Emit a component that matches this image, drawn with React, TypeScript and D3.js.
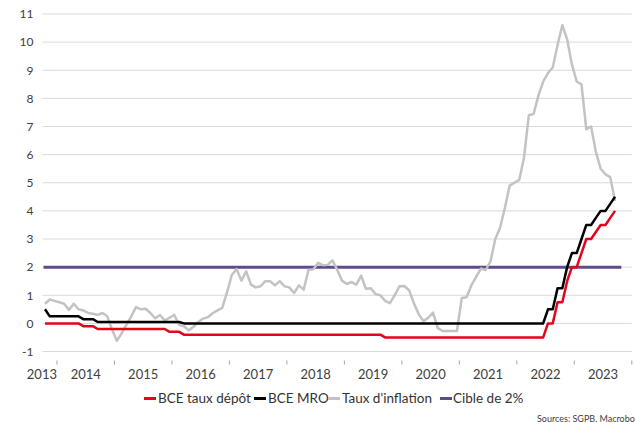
import React from "react";
import * as d3 from "d3";

// Monthly categories Oct 2013 .. Dec 2023 (axis), data Oct 2013 .. Sep 2023
const startMonth = new Date(2013, 9, 1);
const endMonth = new Date(2024, 0, 1);
const yearLabels = ["2013", "2014", "2015", "2016", "2017", "2018", "2019", "2020", "2021", "2022", "2023"];
const yTicks = [-1, 0, 1, 2, 3, 4, 5, 6, 7, 8, 9, 10, 11];

const depositRate = [
  0, 0, 0,
  0, 0, 0, 0, 0, -0.1, -0.1, -0.1, -0.2, -0.2, -0.2, -0.2,
  -0.2, -0.2, -0.2, -0.2, -0.2, -0.2, -0.2, -0.2, -0.2, -0.2, -0.2, -0.3,
  -0.3, -0.3, -0.4, -0.4, -0.4, -0.4, -0.4, -0.4, -0.4, -0.4, -0.4, -0.4,
  -0.4, -0.4, -0.4, -0.4, -0.4, -0.4, -0.4, -0.4, -0.4, -0.4, -0.4, -0.4,
  -0.4, -0.4, -0.4, -0.4, -0.4, -0.4, -0.4, -0.4, -0.4, -0.4, -0.4, -0.4,
  -0.4, -0.4, -0.4, -0.4, -0.4, -0.4, -0.4, -0.4, -0.5, -0.5, -0.5, -0.5,
  -0.5, -0.5, -0.5, -0.5, -0.5, -0.5, -0.5, -0.5, -0.5, -0.5, -0.5, -0.5,
  -0.5, -0.5, -0.5, -0.5, -0.5, -0.5, -0.5, -0.5, -0.5, -0.5, -0.5, -0.5,
  -0.5, -0.5, -0.5, -0.5, -0.5, -0.5, 0, 0, 0.75, 0.75, 1.5, 2.0,
  2.0, 2.5, 3.0, 3.0, 3.25, 3.5, 3.5, 3.75, 4.0,
];

const mroRate = [
  0.5, 0.25, 0.25,
  0.25, 0.25, 0.25, 0.25, 0.25, 0.15, 0.15, 0.15, 0.05, 0.05, 0.05, 0.05,
  0.05, 0.05, 0.05, 0.05, 0.05, 0.05, 0.05, 0.05, 0.05, 0.05, 0.05, 0.05,
  0.05, 0.05, 0, 0, 0, 0, 0, 0, 0, 0, 0, 0,
  0, 0, 0, 0, 0, 0, 0, 0, 0, 0, 0, 0,
  0, 0, 0, 0, 0, 0, 0, 0, 0, 0, 0, 0,
  0, 0, 0, 0, 0, 0, 0, 0, 0, 0, 0, 0,
  0, 0, 0, 0, 0, 0, 0, 0, 0, 0, 0, 0,
  0, 0, 0, 0, 0, 0, 0, 0, 0, 0, 0, 0,
  0, 0, 0, 0, 0, 0, 0.5, 0.5, 1.25, 1.25, 2.0, 2.5,
  2.5, 3.0, 3.5, 3.5, 3.75, 4.0, 4.0, 4.25, 4.5,
];

const inflation = [
  0.7, 0.85, 0.8,
  0.75, 0.7, 0.48, 0.7, 0.5, 0.46, 0.37, 0.34, 0.3, 0.37, 0.25, -0.22,
  -0.62, -0.35, -0.05, 0.25, 0.58, 0.5, 0.52, 0.37, 0.18, 0.3, 0.1, 0.2,
  0.3, -0.05, -0.1, -0.25, -0.12, 0.05, 0.17, 0.22, 0.36, 0.46, 0.55, 1.1,
  1.72, 1.93, 1.52, 1.85, 1.38, 1.28, 1.32, 1.5, 1.5, 1.35, 1.5, 1.32,
  1.28, 1.08, 1.35, 1.2, 1.9, 1.92, 2.15, 2.07, 2.08, 2.24, 1.91, 1.52,
  1.4, 1.47, 1.38, 1.7, 1.23, 1.25, 1.04, 1.0, 0.8, 0.72, 1.0, 1.32,
  1.33, 1.18, 0.72, 0.33, 0.08, 0.2, 0.38, -0.17, -0.27, -0.27, -0.27, -0.27,
  0.9, 0.93, 1.35, 1.65, 1.95, 1.9, 2.2, 3.0, 3.4, 4.1, 4.9, 5.0,
  5.1, 5.9, 7.4, 7.45, 8.1, 8.6, 8.9, 9.1, 9.9, 10.6, 10.1, 9.2,
  8.6, 8.5, 6.9, 7.0, 6.1, 5.5, 5.3, 5.2, 4.35,
];

const target = [
  2, 2, 2,
  2, 2, 2, 2, 2, 2, 2, 2, 2, 2, 2, 2,
  2, 2, 2, 2, 2, 2, 2, 2, 2, 2, 2, 2,
  2, 2, 2, 2, 2, 2, 2, 2, 2, 2, 2, 2,
  2, 2, 2, 2, 2, 2, 2, 2, 2, 2, 2, 2,
  2, 2, 2, 2, 2, 2, 2, 2, 2, 2, 2, 2,
  2, 2, 2, 2, 2, 2, 2, 2, 2, 2, 2, 2,
  2, 2, 2, 2, 2, 2, 2, 2, 2, 2, 2, 2,
  2, 2, 2, 2, 2, 2, 2, 2, 2, 2, 2, 2,
  2, 2, 2, 2, 2, 2, 2, 2, 2, 2, 2, 2,
  2, 2, 2, 2, 2, 2, 2, 2, 2, 2,
];

const seriesNames = ["BCE taux dépôt", "BCE MRO", "Taux d'inflation", "Cible de 2%"];
const seriesColors = ["#E3051B", "#000000", "#C3C3C3", "#5E4B8B"];

const W = 635;
const H = 422;
const FONT = "Lato, 'Liberation Sans', sans-serif";

export default function App() {
  const fmt = d3.timeFormat("%Y-%m");
  const months = d3.timeMonth.range(startMonth, endMonth).map(fmt);
  const x = d3.scaleBand<string>().domain(months).range([42.6, 631.8]).paddingInner(0).paddingOuter(0);
  const bw = x.bandwidth();
  const y = d3.scaleLinear().domain([-1, 11]).range([351.5, 14]);

  const cx = (i: number) => (x(months[i]) as number) + bw / 2;
  const line = d3
    .line<number>()
    .x((_, i) => cx(i))
    .y((d) => y(d));

  const allSeries = [depositRate, mroRate, inflation, target];
  const widths = [2.5, 2.5, 2.5, 3];
  const drawOrder = [3, 2, 0, 1];

  const xLeft = x.range()[0];
  const xRight = x.range()[1];

  const tickXs = yearLabels.slice(1).map((yr) => x(`${yr}-01`) as number).concat([xRight]);
  const labelXs = yearLabels.map((yr, k) => {
    if (k === 0) return tickXs[0];
    const a = tickXs[k - 1];
    const b = tickXs[k];
    return (a + b) / 2;
  });

  const legendItems = [
    { sx: 144, tx: 158 },
    { sx: 254, tx: 268 },
    { sx: 328, tx: 342 },
    { sx: 440, tx: 453 },
  ];
  const legendY = 398.5;

  return (
    <svg
      width={W}
      height={H}
      style={{ position: "absolute", left: 0, top: 0, background: "#fff" }}
      fontFamily={FONT}
    >
      <rect x={0} y={0} width={W} height={H} fill="#fff" />
      {yTicks.map((t) => (
        <g key={t}>
          <line x1={xLeft} x2={xRight} y1={y(t)} y2={y(t)} stroke="#D9D9D9" strokeWidth={1} />
          <text x={33.5} y={y(t)} dy="0.36em" textAnchor="end" fontSize={12} fill="#404040">
            {t}
          </text>
        </g>
      ))}
      {tickXs.map((tx, k) => (
        <line key={k} x1={tx} x2={tx} y1={360.5} y2={364.5} stroke="#A6A6A6" strokeWidth={1} />
      ))}
      {yearLabels.map((yr, k) => (
        <text
          key={yr}
          x={labelXs[k]}
          y={379}
          textAnchor={k === 0 ? "end" : "middle"}
          fontSize={13}
          fill="#404040"
        >
          {yr}
        </text>
      ))}
      {drawOrder.map((si) => (
        <path
          key={si}
          d={line(allSeries[si]) || ""}
          fill="none"
          stroke={seriesColors[si]}
          strokeWidth={widths[si]}
          strokeLinejoin="round"
          strokeLinecap={si === 3 ? "square" : "butt"}
        />
      ))}
      {legendItems.map((it, k) => (
        <g key={k}>
          <line
            x1={it.sx}
            x2={it.sx + 12}
            y1={legendY}
            y2={legendY}
            stroke={seriesColors[k]}
            strokeWidth={3}
          />
          <text x={it.tx} y={legendY} dy="0.36em" fontSize={13.5} fill="#333">
            {seriesNames[k]}
          </text>
        </g>
      ))}
      <text x={537} y={422} fontSize={9} fill="#404040">
        Sources: SGPB, Macrobond
      </text>
    </svg>
  );
}
